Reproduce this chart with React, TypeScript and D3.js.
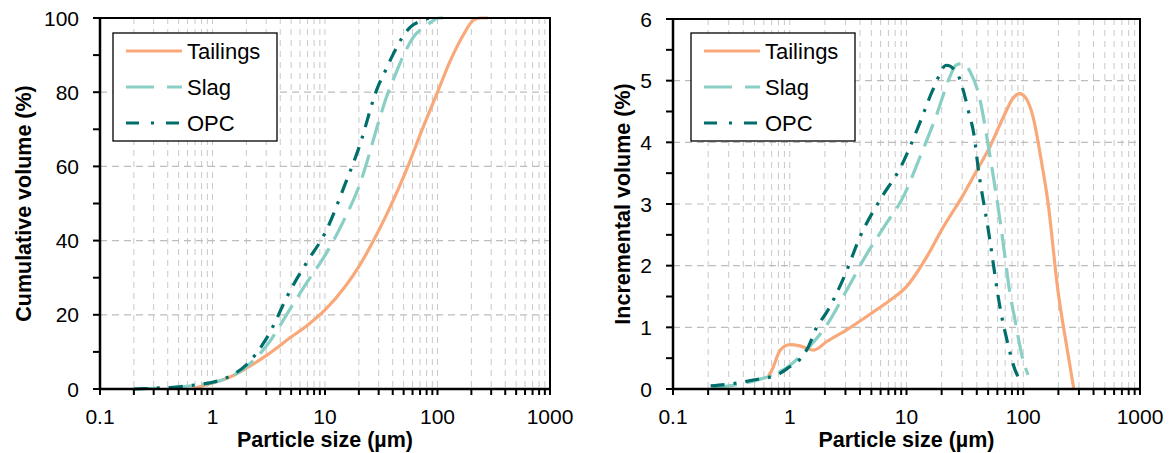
import React from "react";
import * as d3 from "d3";

// ---------- data ----------
const seriesNames = ["Tailings", "Slag", "OPC"];

// cumulative volume (%)
const cumTailingsSize = [0.65, 1, 1.5, 2, 3, 5, 7, 10, 15, 20, 27, 35, 45, 55, 70, 100, 130, 170, 210, 240, 280];
const cumTailingsVal = [0, 1.6, 3.5, 5.6, 9, 14, 17.2, 21.3, 27.5, 33, 40, 46.8, 54, 60.3, 68.5, 80, 88.5, 95.5, 99.5, 100, 100];
const cumSlagSize = [0.2, 0.3, 0.5, 0.7, 1, 1.5, 2, 3, 5, 7, 10, 15, 20, 30, 35, 40, 50, 60, 80, 105, 112];
const cumSlagVal = [0, 0.2, 0.5, 1, 1.7, 3.5, 6, 11.5, 22, 29, 36, 46, 54.5, 72, 78.5, 83, 90, 94.5, 98, 100, 100];
const cumOpcSize = [0.2, 0.3, 0.5, 0.7, 1, 1.5, 2, 3, 5, 7, 10, 15, 20, 30, 33, 40, 48, 57, 74, 85];
const cumOpcVal = [0, 0.2, 0.6, 1.1, 1.8, 3.8, 6.5, 13.5, 27, 34.5, 42, 55, 65, 82, 84.6, 90, 94.5, 97.5, 99.3, 100];

// incremental volume (%)
const incTailingsSize = [0.66, 0.7, 0.83, 1, 1.22, 1.6, 2.08, 3.07, 5.2, 7, 10, 15, 20, 30, 41, 50, 68, 82, 93, 105, 121, 144, 162, 198, 240, 271];
const incTailingsVal = [0.22, 0.3, 0.63, 0.72, 0.7, 0.63, 0.77, 0.96, 1.25, 1.42, 1.66, 2.15, 2.58, 3.12, 3.58, 3.87, 4.42, 4.72, 4.79, 4.72, 4.42, 3.66, 3.06, 1.6, 0.6, 0];
const incSlagSize = [0.22, 0.3, 0.56, 0.7, 1, 1.3, 2.08, 3.07, 4.6, 6.7, 9.4, 13.1, 18.3, 23.6, 26.5, 30.6, 35, 41, 52, 65, 77, 85, 99.5, 110];
const incSlagVal = [0.02, 0.05, 0.16, 0.22, 0.38, 0.58, 1.04, 1.6, 2.2, 2.68, 3.12, 3.77, 4.47, 5.07, 5.25, 5.28, 5.15, 4.82, 3.77, 2.58, 1.55, 1.12, 0.47, 0.23];
const incOpcSize = [0.21, 0.36, 0.5, 0.78, 1, 1.22, 1.43, 1.7, 2.08, 3, 4, 5.9, 9.1, 12.6, 17, 22, 27, 30, 34, 38, 41, 50, 65, 73, 78, 85, 97];
const incOpcVal = [0.05, 0.1, 0.15, 0.23, 0.36, 0.48, 0.67, 1.0, 1.25, 1.87, 2.47, 3.06, 3.63, 4.25, 4.87, 5.25, 5.13, 4.9, 4.5, 4.1, 3.6, 2.6, 1.2, 0.77, 0.55, 0.31, 0.12];

const xTickLabels = ["0.1", "1", "10", "100", "1000"];
const cumYTicks = [0, 20, 40, 60, 80, 100];
const incYTicks = [0, 1, 2, 3, 4, 5, 6];

// ---------- styles ----------
const COLORS = ["#F9A979", "#89CFC5", "#006E6B"];
const DASHES = ["none", "24 10", "14 9 3 9"];
const FONT = "'Liberation Sans', Arial, sans-serif";

type Series = { size: number[]; val: number[] };

function Panel(props: {
  left: number; right: number; top: number; bottom: number;
  yMax: number; yTicks: number[]; yMinorStep: number;
  series: Series[]; yTitle: string; titleX: number;
  legendX: number; legendW: number;
}) {
  const { left, right, top, bottom, yMax, yTicks, yMinorStep, series, yTitle, titleX, legendX, legendW } = props;
  const x = d3.scaleLog().domain([0.1, 1000]).range([left, right]);
  const y = d3.scaleLinear().domain([0, yMax]).range([bottom, top]);

  const minor: number[] = [];
  for (let e = -1; e < 3; e++) {
    for (let i = 1; i < 10; i++) minor.push(i * Math.pow(10, e));
  }
  minor.push(1000);
  const gridX = minor.filter((v) => v > 0.1 + 1e-9 && v < 999);
  const yMinor = d3.range(0, yMax + 1e-9, yMinorStep);

  const line = d3.line<[number, number]>()
    .x((d) => x(d[0]))
    .y((d) => y(d[1]))
    .curve(d3.curveMonotoneX);

  const legendTop = 33;
  const legendH = 108;

  return (
    <g>
      {/* grid */}
      {gridX.map((v, i) => (
        <line key={"gx" + i} x1={x(v)} x2={x(v)} y1={top} y2={bottom}
          stroke="#C8C8C8" strokeWidth={1} strokeDasharray="6 5" />
      ))}
      {yTicks.filter((t) => t > 0 && t < yMax).map((t) => (
        <line key={"gy" + t} x1={left} x2={right} y1={y(t)} y2={y(t)}
          stroke="#BDBDBD" strokeWidth={1.2} strokeDasharray="7 5" />
      ))}

      {/* curves */}
      {series.map((s, i) => (
        <path key={"s" + i}
          d={line(s.size.map((v, j) => [v, s.val[j]] as [number, number])) || ""}
          fill="none" stroke={COLORS[i]} strokeWidth={3.2}
          strokeDasharray={DASHES[i]} />
      ))}

      {/* frame */}
      <rect x={left} y={top} width={right - left} height={bottom - top}
        fill="none" stroke="#000" strokeWidth={2} />
      <line x1={left} x2={left} y1={top - 1} y2={bottom + 1} stroke="#000" strokeWidth={2.5} />
      <line x1={left - 1} x2={right + 1} y1={bottom} y2={bottom} stroke="#000" strokeWidth={2.5} />

      {/* x ticks */}
      {minor.concat([0.1]).map((v, i) => (
        <line key={"xt" + i} x1={x(v)} x2={x(v)} y1={bottom} y2={bottom + 6}
          stroke="#000" strokeWidth={2} />
      ))}
      {xTickLabels.map((lab) => (
        <text key={"xl" + lab} x={x(+lab)} y={bottom + 35} textAnchor="middle"
          fontFamily={FONT} fontSize={21} fill="#000">{lab}</text>
      ))}

      {/* y ticks */}
      {yMinor.map((t, i) => (
        <line key={"yt" + i} x1={left - 7} x2={left} y1={y(t)} y2={y(t)}
          stroke="#000" strokeWidth={2} />
      ))}
      {yTicks.map((t) => (
        <text key={"yl" + t} x={left - 21} y={y(t)} dy="0.36em" textAnchor="end"
          fontFamily={FONT} fontSize={21} fill="#000">{t}</text>
      ))}

      {/* axis titles */}
      <text x={(left + right) / 2} y={447} textAnchor="middle" fontFamily={FONT}
        fontSize={21.5} fontWeight="bold" fill="#000">Particle size (µm)</text>
      <text transform={`translate(${titleX},${(top + bottom) / 2}) rotate(-90)`}
        textAnchor="middle" fontFamily={FONT} fontSize={21.5} fontWeight="bold"
        fill="#000">{yTitle}</text>

      {/* legend */}
      <rect x={legendX} y={legendTop} width={legendW} height={legendH}
        fill="#fff" stroke="#000" strokeWidth={1.3} />
      {seriesNames.map((name, i) => {
        const ly = legendTop + 18 + i * 36;
        return (
          <g key={"lg" + name}>
            <line x1={legendX + 13} x2={legendX + 69} y1={ly} y2={ly}
              stroke={COLORS[i]} strokeWidth={3.2}
              strokeDasharray={i === 1 ? "28 13" : i === 2 ? "13 12 3 12" : "none"} />
            <text x={legendX + 74} y={ly} dy="0.36em" fontFamily={FONT}
              fontSize={22} fill="#000">{name}</text>
          </g>
        );
      })}
    </g>
  );
}

export default function App() {
  const cumSeries: Series[] = [
    { size: cumTailingsSize, val: cumTailingsVal },
    { size: cumSlagSize, val: cumSlagVal },
    { size: cumOpcSize, val: cumOpcVal },
  ];
  const incSeries: Series[] = [
    { size: incTailingsSize, val: incTailingsVal },
    { size: incSlagSize, val: incSlagVal },
    { size: incOpcSize, val: incOpcVal },
  ];
  return (
    <svg width={1173} height={453} style={{ position: "absolute", left: 0, top: 0, background: "#fff" }}>
      <rect x={0} y={0} width={1173} height={453} fill="#fff" />
      <Panel left={100} right={550} top={18} bottom={389} yMax={100}
        yTicks={cumYTicks} yMinorStep={10} series={cumSeries}
        yTitle="Cumulative volume (%)" titleX={31} legendX={113} legendW={164} />
      <Panel left={673} right={1140} top={19} bottom={389} yMax={6}
        yTicks={incYTicks} yMinorStep={0.5} series={incSeries}
        yTitle="Incremental volume (%)" titleX={630} legendX={691} legendW={164} />
    </svg>
  );
}
